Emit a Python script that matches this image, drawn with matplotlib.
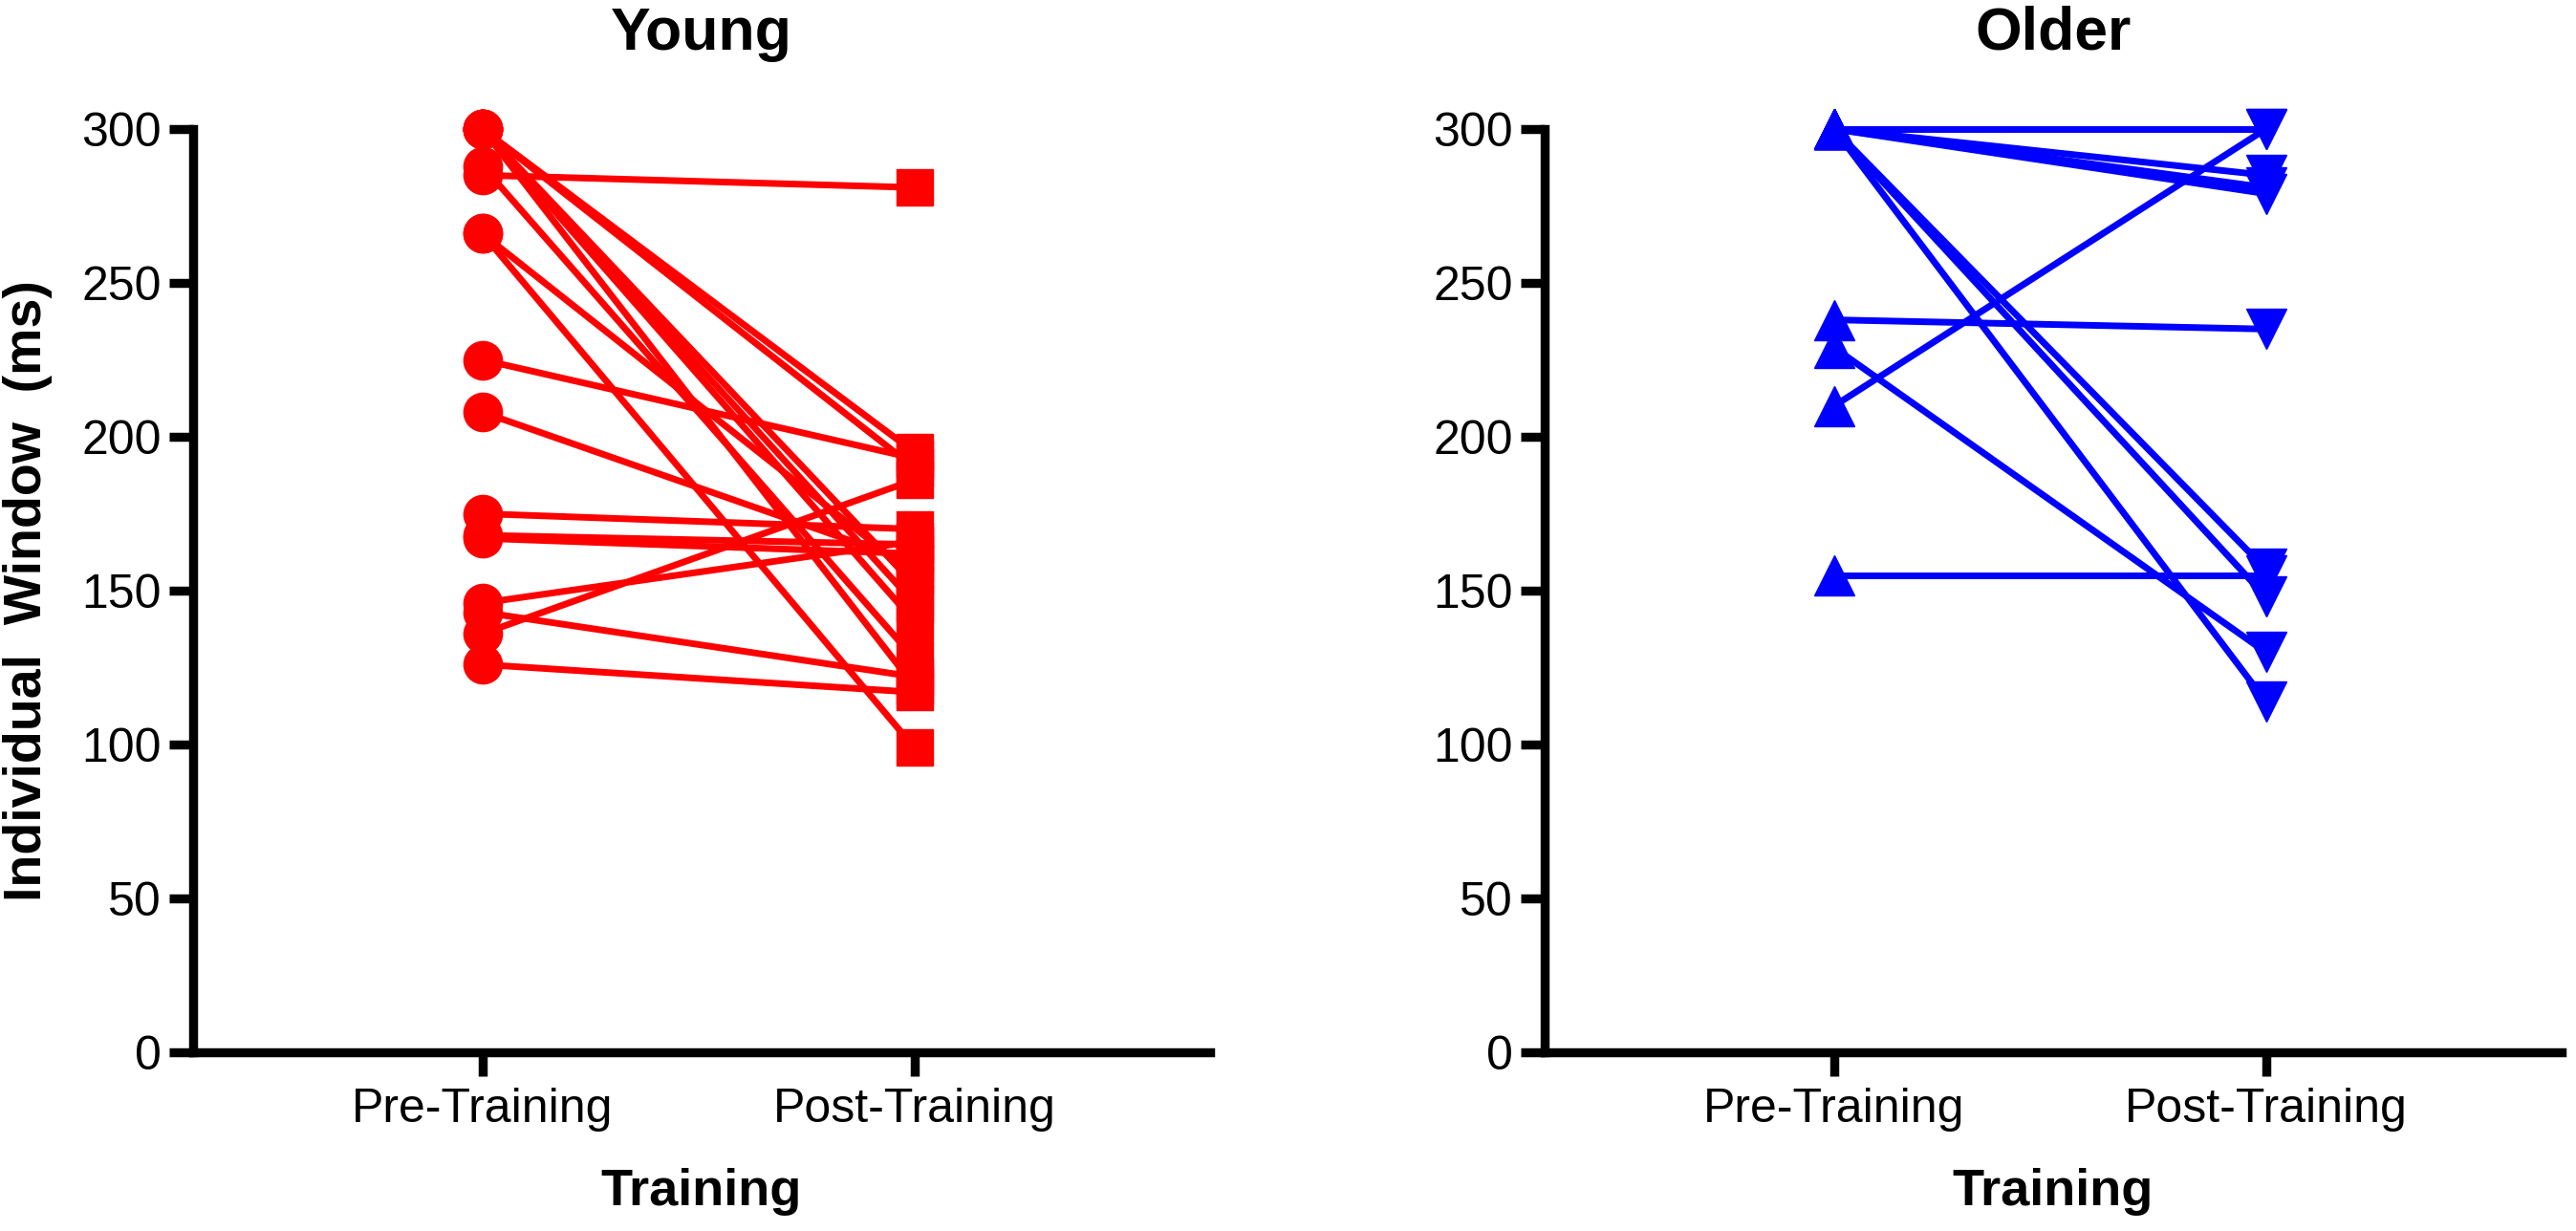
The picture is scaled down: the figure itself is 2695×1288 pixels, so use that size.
import matplotlib
matplotlib.use("Agg")
import matplotlib.pyplot as plt

plt.rcParams['font.family'] = ['Liberation Sans', 'DejaVu Sans']

# data (ms)
conditions = ["Pre-Training", "Post-Training"]
young_pre = [300, 300, 300, 300, 300, 300, 288, 285, 266, 266, 225, 208, 175, 168, 167, 146, 143, 136, 126]
young_post = [195, 190, 152, 146, 140, 119, 128, 281, 99, 155, 193, 159, 170, 165, 162, 166, 122, 186, 117]
older_pre = [300, 300, 300, 300, 300, 300, 300, 238, 229, 210, 155]
older_post = [300, 285, 281, 279, 157, 148, 114, 235, 130, 300, 155]
yticks = [0, 50, 100, 150, 200, 250, 300]

W, H = 2695, 1288
fig = plt.figure(figsize=(W / 100, H / 100), dpi=100)

ax_w = 1064 / W
ax_h = 966 / H
ax_b = 1 - 1101 / H
ax1 = fig.add_axes([202 / W, ax_b, ax_w, ax_h])
ax2 = fig.add_axes([1616 / W, ax_b, ax_w, ax_h])


def draw_panel(ax, pre, post, color, m_pre, m_post, ms_pre, ms_post, title, ylabel):
    # lines first, markers on top
    for a, b in zip(pre, post):
        ax.plot([0, 1], [a, b], color=color, lw=5, solid_capstyle='butt',
                clip_on=False, zorder=2)
    ax.plot([0] * len(pre), pre, ls='none', marker=m_pre, ms=ms_pre,
            color=color, mec=color, clip_on=False, zorder=3)
    ax.plot([1] * len(post), post, ls='none', marker=m_post, ms=ms_post,
            color=color, mec=color, clip_on=False, zorder=3)

    ax.set_xlim(-0.67, 1.685)
    ax.set_ylim(0, 300)
    ax.set_xticks([0, 1])
    ax.set_xticklabels(conditions)
    ax.set_yticks(yticks)
    ax.spines['top'].set_visible(False)
    ax.spines['right'].set_visible(False)
    for s in ['left', 'bottom']:
        ax.spines[s].set_linewidth(6.8)
        ax.spines[s].set_capstyle('projecting')
    ax.tick_params(axis='both', length=18, width=6.8, labelsize=36, direction='out')
    ax.tick_params(axis='y', pad=6)
    ax.tick_params(axis='x', pad=9)

    ax.set_title(title, fontsize=45, fontweight='bold', pad=60)
    ax.set_xlabel("Training", fontsize=39, fontweight='bold')
    ax.xaxis.set_label_coords(0.5, -0.125)
    if ylabel:
        ax.set_ylabel(ylabel, fontsize=40, fontweight='bold')
        ax.yaxis.set_label_coords(-0.138, 0.5)


draw_panel(ax1, young_pre, young_post, '#ff0000', 'o', 's', 29, 27, "Young",
           "Individual  Window  (ms)")
draw_panel(ax2, older_pre, older_post, '#0000ff', '^', 'v', 30, 30, "Older", None)

fig.savefig("out.png", dpi=100)
